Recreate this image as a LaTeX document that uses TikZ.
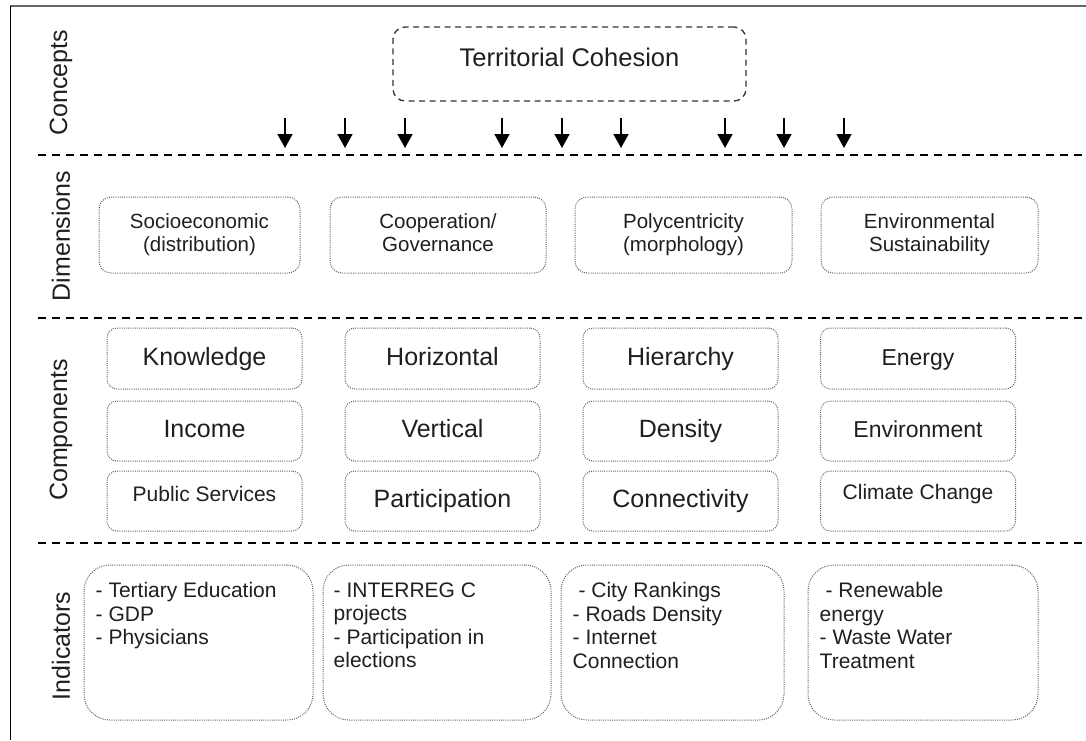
\documentclass[tikz,border=0pt]{standalone}
\usepackage{fontspec}
\setmainfont{Liberation Sans}
\usetikzlibrary{arrows.meta}

\begin{document}
\begin{tikzpicture}[x=1pt,y=-1pt,
  every node/.style={inner sep=0pt, text=black!88},
  frameline/.style={line width=1.3pt, black},
  topline/.style={line width=2.5pt, black!60},
  separator/.style={line width=1.3pt, black, dash pattern=on 8pt off 6pt},
  conceptbox/.style={draw=black!80, line width=1.3pt, dash pattern=on 6pt off 4.5pt, rounded corners=12pt},
  dotbox/.style={draw=black!62, line width=1pt, dash pattern=on 1pt off 1.2pt},
  dimbox/.style={dotbox, rounded corners=12pt, minimum width=#1, minimum height=76pt, align=center,
                 font=\fontsize{20.5}{23}\selectfont},
  compbox/.style={dotbox, rounded corners=10pt, minimum width=195pt, minimum height=#1,
                  text height=18pt, text depth=5pt},
  indbox/.style={dotbox, rounded corners=26pt, minimum width=#1, minimum height=155pt},
  indtext/.style={anchor=north west, align=left, font=\fontsize{21}{23.5}\selectfont},
  sectionlabel/.style={rotate=90, font=\fontsize{25}{30}\selectfont},
  bigtxt/.style={font=\fontsize{25}{30}\selectfont},
  midtxt/.style={font=\fontsize{23}{28}\selectfont},
  smalltxt/.style={font=\fontsize{21}{25}\selectfont, text height=15pt, text depth=4.5pt},
  downarrow/.style={line width=1.5pt, -{Triangle[length=14pt,width=15pt]}},
]
\useasboundingbox (0,0) rectangle (1086,740);

% outer frame (top and left edges only)
\coordinate (ftl) at (10,6);
\coordinate (ftr) at (1086,6);
\coordinate (fbl) at (10.5,740);
\draw[topline] (ftl) -- (ftr);
\draw[frameline] ([xshift=0.5pt]ftl) -- (fbl);

% section separators
\foreach \n/\y in {1/155, 2/318, 3/543} {
  \coordinate (sep\n l) at (38,\y);
  \coordinate (sep\n r) at (1086,\y);
  \draw[separator] (sep\n l) -- (sep\n r);
}

% section labels
\node[sectionlabel] (lconcepts) at (61,83) {Concepts};
\node[sectionlabel] (ldims) at (61,236) {Dimensions};
\node[sectionlabel] (lcomps) at (61,430) {Components};
\node[sectionlabel] (linds) at (61,646) {Indicators};

% concept
\node[conceptbox, minimum width=353pt, minimum height=74pt] (tc) at (569.5,64) {};
\node[font=\fontsize{25.5}{30}\selectfont] (tctext) at (569.5,57) {Territorial Cohesion};

% arrows from the concept down to the dimensions
\foreach \i/\x in {1/285, 2/345, 3/405, 4/502, 5/562, 6/621, 7/725, 8/784, 9/844} {
  \coordinate (arr\i s) at (\x,118);
  \coordinate (arr\i e) at (\x,148);
  \draw[downarrow] (arr\i s) -- (arr\i e);
}

% dimensions
\node[dimbox=201pt] (d1) at (199.5,235) {Socioeconomic\strut\\(distribution)\strut};
\node[dimbox=216pt] (d2) at (438,235) {Cooperation/\strut\\Governance\strut};
\node[dimbox=217pt] (d3) at (683.5,235) {Polycentricity\strut\\(morphology)\strut};
\node[dimbox=217pt] (d4) at (929.5,235) {Environmental\strut\\Sustainability\strut};

% components
\node[compbox=61pt, bigtxt] (c11) at (204.5,358.5) {Knowledge};
\node[compbox=60pt, bigtxt] (c12) at (204.5,431) {Income};
\node[compbox=60pt] (c13) at (204.5,501) {};
\node[smalltxt] (c13t) at (204.5,496) {Public Services};

\node[compbox=61pt, bigtxt] (c21) at (442.5,358.5) {Horizontal};
\node[compbox=60pt, bigtxt] (c22) at (442.5,431) {Vertical};
\node[compbox=60pt, bigtxt] (c23) at (442.5,501) {Participation};

\node[compbox=61pt, bigtxt] (c31) at (680.5,358.5) {Hierarchy};
\node[compbox=60pt, bigtxt] (c32) at (680.5,431) {Density};
\node[compbox=60pt, bigtxt] (c33) at (680.5,501) {Connectivity};

\node[compbox=61pt, midtxt] (c41) at (918,358.5) {Energy};
\node[compbox=60pt, midtxt] (c42) at (918,431) {Environment};
\node[compbox=60pt] (c43) at (918,501) {};
\node[smalltxt] (c43t) at (918,494) {Climate Change};

% indicators
\node[indbox=229pt] (i1) at (198.5,642.5) {};
\node[indbox=228pt] (i2) at (437,642.5) {};
\node[indbox=223pt] (i3) at (672.5,642.5) {};
\node[indbox=230pt] (i4) at (923,642.5) {};

\node[indtext] (i1t) at ([shift={(12,18)}]i1.north west) {- Tertiary Education\\- GDP\\- Physicians};
\node[indtext] (i2t) at ([shift={(11,18)}]i2.north west) {- INTERREG C\\projects\\- Participation in\\elections};
\node[indtext] (i3t) at ([shift={(12,18)}]i3.north west) {\ - City Rankings\\- Roads Density\\- Internet\\Connection};
\node[indtext] (i4t) at ([shift={(12,18)}]i4.north west) {\ - Renewable\\energy\\- Waste Water\\Treatment};
\end{tikzpicture}
\end{document}
